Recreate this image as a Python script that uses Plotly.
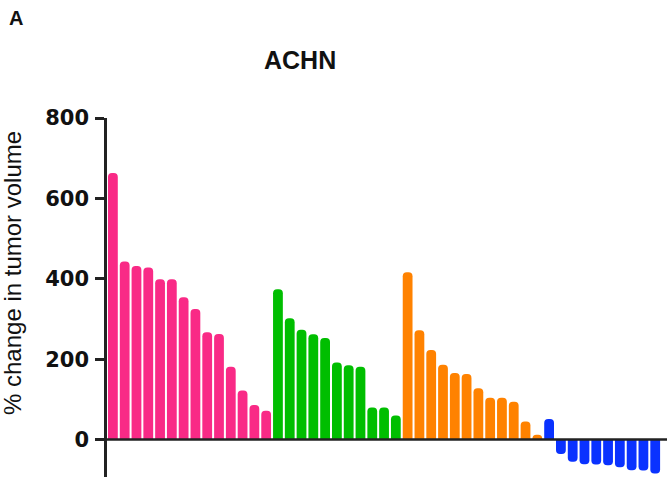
import plotly.graph_objects as go

# Data (% change in tumor volume)
pink_vals = [663, 443, 432, 428, 399, 399, 354, 325, 267, 263, 181, 122, 86, 72]
green_vals = [374, 302, 273, 262, 253, 192, 185, 181, 80, 80, 60]
orange_vals = [416, 272, 223, 186, 166, 163, 128, 104, 104, 94, 45, 12]
blue_vals = [51, -36, -55, -61, -62, -64, -69, -76, -77, -84]
y_ticks = [0, 200, 400, 600, 800]

groups = [
    ("group1", pink_vals, "#F92A86"),
    ("group2", green_vals, "#00BE00"),
    ("group3", orange_vals, "#FF8200"),
    ("group4", blue_vals, "#0A32FF"),
]

fig = go.Figure()
start = 0
for name, vals, color in groups:
    xs = list(range(start, start + len(vals)))
    start += len(vals)
    fig.add_trace(go.Bar(
        x=xs, y=vals, name=name,
        marker=dict(color=color, line=dict(width=0), cornerradius=4),
        showlegend=False,
    ))

W, H = 670, 487
L, R, T, B = 107, 3, 118, 10
pw = W - L - R
ph = H - T - B

def px_x(p):
    return (p - L) / pw

def px_y(p):
    return (H - B - p) / ph

fig.update_layout(
    width=W, height=H,
    margin=dict(l=L, r=R, t=T, b=B, pad=0),
    paper_bgcolor="white", plot_bgcolor="white",
    bargap=0.17,
    font=dict(family="Liberation Sans, Arial, sans-serif", color="#111"),
    xaxis=dict(range=[-0.5, 47.0], showticklabels=False, ticks="",
               showgrid=False, zeroline=False, showline=False),
    yaxis=dict(range=[-93, 800], tickvals=y_ticks, ticks="outside",
               ticklen=9, tickwidth=2.5, tickcolor="#222",
               showline=True, linecolor="#222", linewidth=2.5,
               showgrid=False, zeroline=False,
               tickfont=dict(family="DejaVu Sans, Liberation Sans, Arial, sans-serif",
                             size=21, color="#111", weight="bold"),
               ticklabelstandoff=2),
    shapes=[dict(type="line", xref="paper", yref="y", x0=0, x1=1, y0=0, y1=0,
                 line=dict(color="#222", width=2.5), layer="above")],
    annotations=[
        dict(text="<b>A</b>", xref="paper", yref="paper",
             x=px_x(7), y=px_y(18), xanchor="left", yanchor="middle",
             showarrow=False,
             font=dict(family="Liberation Sans, Arial", size=20, color="#111")),
        dict(text="<b>ACHN</b>", xref="paper", yref="paper",
             x=px_x(300), y=px_y(60), xanchor="center", yanchor="middle",
             showarrow=False,
             font=dict(family="Liberation Sans, Arial", size=25, color="#111")),
        dict(text="% change in tumor volume", xref="paper", yref="paper",
             x=px_x(12), y=px_y(273), xanchor="center", yanchor="middle",
             textangle=-90, showarrow=False,
             font=dict(family="Liberation Sans, Arial, sans-serif", size=24, color="#111")),
    ],
)

# remove the browser's default 8px body margin so the figure fills the window
fig.write_html("out.html", config={"displayModeBar": False},
               post_script="document.body.style.margin='0';")
